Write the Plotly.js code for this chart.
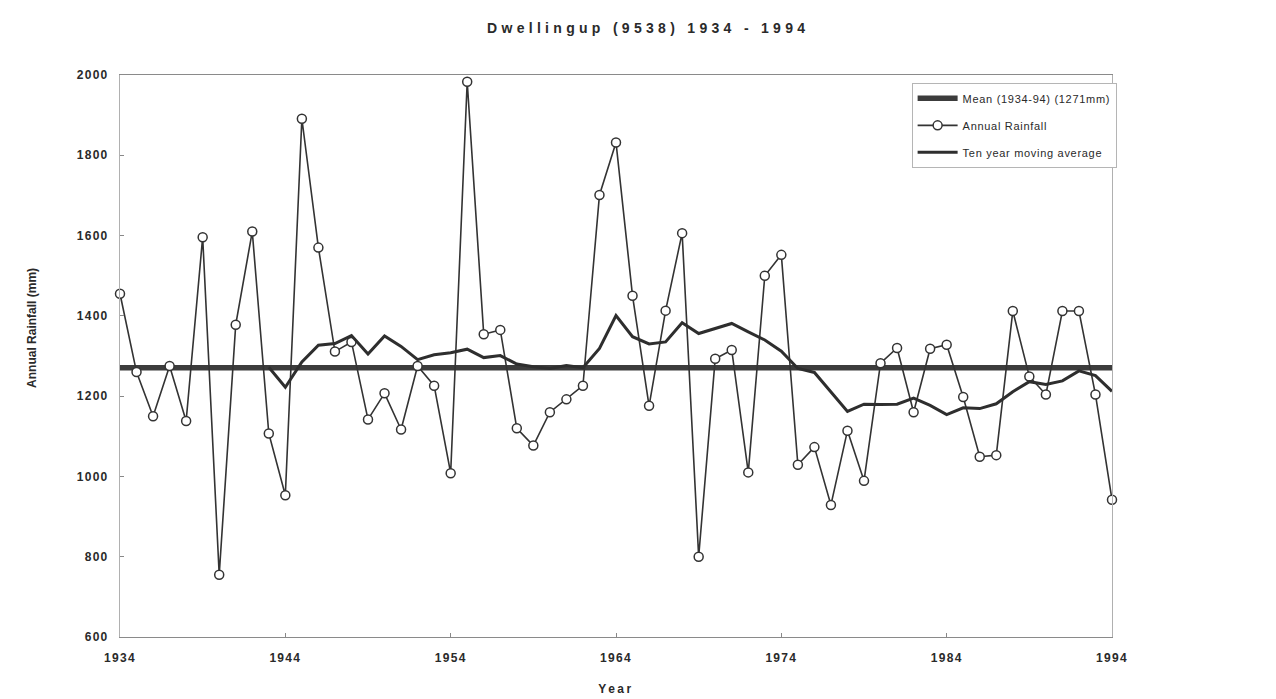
<!DOCTYPE html>
<html>
<head>
<meta charset="utf-8">
<script src="https://cdn.plot.ly/plotly-3.0.1.min.js"></script>
<style>
  html, body { margin: 0; padding: 0; background: #ffffff; }
  #chart { width: 1276px; height: 699px; }
  .gtitle { letter-spacing: 4.3px; }
  .xtick text, .ytick text { letter-spacing: 1.3px; }
  .xtitle { letter-spacing: 2.5px; }
  .legendtext { letter-spacing: 0.7px; }
</style>
</head>
<body>
<div id="chart"></div>
<script>
// ---- Data ----
const years = [1934,1935,1936,1937,1938,1939,1940,1941,1942,1943,
               1944,1945,1946,1947,1948,1949,1950,1951,1952,1953,
               1954,1955,1956,1957,1958,1959,1960,1961,1962,1963,
               1964,1965,1966,1967,1968,1969,1970,1971,1972,1973,
               1974,1975,1976,1977,1978,1979,1980,1981,1982,1983,
               1984,1985,1986,1987,1988,1989,1990,1991,1992,1993,
               1994];
const annualRainfall = [1455,1260,1150,1275,1138,1596,755,1378,1610,1107,
                        953,1891,1570,1311,1335,1142,1207,1117,1275,1226,
                        1008,1983,1354,1365,1120,1077,1160,1192,1226,1701,
                        1832,1450,1176,1413,1606,800,1293,1315,1010,1500,
                        1552,1029,1073,929,1114,989,1282,1320,1160,1318,
                        1328,1198,1049,1053,1412,1249,1204,1412,1412,1204,
                        942];
const maYears = [1943,1944,1945,1946,1947,1948,1949,1950,1951,1952,
                 1953,1954,1955,1956,1957,1958,1959,1960,1961,1962,
                 1963,1964,1965,1966,1967,1968,1969,1970,1971,1972,
                 1973,1974,1975,1976,1977,1978,1979,1980,1981,1982,
                 1983,1984,1985,1986,1987,1988,1989,1990,1991,1992,
                 1993,1994];
const movingAverage = [1272,1222,1285,1327,1331,1351,1305,1350,1324,1291,
                       1303,1308,1317,1296,1301,1280,1273,1269,1276,1271,
                       1319,1401,1348,1330,1335,1383,1356,1369,1381,1360,
                       1340,1312,1269,1259,1211,1162,1180,1179,1180,1195,
                       1177,1154,1171,1169,1181,1211,1236,1229,1238,1263,
                       1251,1212];
const meanRainfall = 1271;
const meanYears = [1934, 1994];
const xTickVals = [1934,1944,1954,1964,1974,1984,1994];
const yTickVals = [600,800,1000,1200,1400,1600,1800,2000];

const FONT = "'Liberation Sans', Arial, sans-serif";
const INK = '#333333';

const traces = [
  {
    name: 'Mean (1934-94) (1271mm)',
    x: meanYears,
    y: meanYears.map(() => meanRainfall),
    mode: 'lines',
    line: { color: '#3c3c3c', width: 5.5 },
    legendgroup: 'a',
    hoverinfo: 'skip'
  },
  {
    name: 'Annual Rainfall',
    x: years,
    y: annualRainfall,
    mode: 'lines+markers',
    line: { color: INK, width: 1.6 },
    marker: { symbol: 'circle', size: 9, color: '#ffffff', line: { color: INK, width: 1.5 } },
    cliponaxis: false,
    legendgroup: 'b'
  },
  {
    name: 'Ten year moving average',
    x: maYears,
    y: movingAverage,
    mode: 'lines',
    line: { color: '#2e2e2e', width: 3 },
    legendgroup: 'c'
  }
];

const layout = {
  width: 1276,
  height: 699,
  paper_bgcolor: '#ffffff',
  plot_bgcolor: '#ffffff',
  margin: { l: 120, r: 164, t: 75, b: 62 },
  font: { family: FONT, color: INK },
  title: {
    text: '<b>Dwellingup (9538) 1934 - 1994</b>',
    font: { family: FONT, size: 14, color: '#2a2a2a' },
    x: 0.508, xref: 'container', xanchor: 'center',
    y: 0.96, yref: 'container', yanchor: 'middle'
  },
  xaxis: {
    range: [1934, 1994],
    tickmode: 'array',
    tickvals: xTickVals,
    ticktext: xTickVals.map(String),
    ticks: 'inside', ticklen: 4, tickcolor: '#888',
    showgrid: false, zeroline: false,
    showline: true, linecolor: '#8a8a8a', linewidth: 1, mirror: true,
    tickfont: { family: FONT, size: 12, color: '#2a2a2a', weight: 'bold' },
    ticklabelstandoff: 10,
    title: { text: '<b>Year</b>', font: { family: FONT, size: 12, color: '#2a2a2a' }, standoff: 20 }
  },
  yaxis: {
    range: [600, 2000],
    tickmode: 'array',
    tickvals: yTickVals,
    ticktext: yTickVals.map(String),
    ticks: 'inside', ticklen: 4, tickcolor: '#888',
    showgrid: false, zeroline: false,
    showline: true, linecolor: '#b0b0b0', linewidth: 1, mirror: true,
    tickfont: { family: FONT, size: 12, color: '#2a2a2a', weight: 'bold' },
    ticklabelstandoff: 8
  },
  annotations: [{
    text: '<b>Annual Rainfall (mm)</b>',
    xref: 'paper', yref: 'paper',
    x: -0.0887, y: 0.55,
    xanchor: 'center', yanchor: 'middle',
    textangle: -90, showarrow: false,
    font: { family: FONT, size: 12, color: '#2a2a2a' }
  }],
  showlegend: true,
  legend: {
    x: 0.798, y: 0.986, xanchor: 'left', yanchor: 'top',
    bgcolor: '#ffffff',
    bordercolor: '#b5b5b5', borderwidth: 1,
    font: { family: FONT, size: 11, color: '#2a2a2a' },
    traceorder: 'grouped',
    tracegroupgap: 8,
    itemwidth: 40
  },
  hovermode: false
};

Plotly.newPlot('chart', traces, layout, { displayModeBar: false, staticPlot: true });
</script>
</body>
</html>
